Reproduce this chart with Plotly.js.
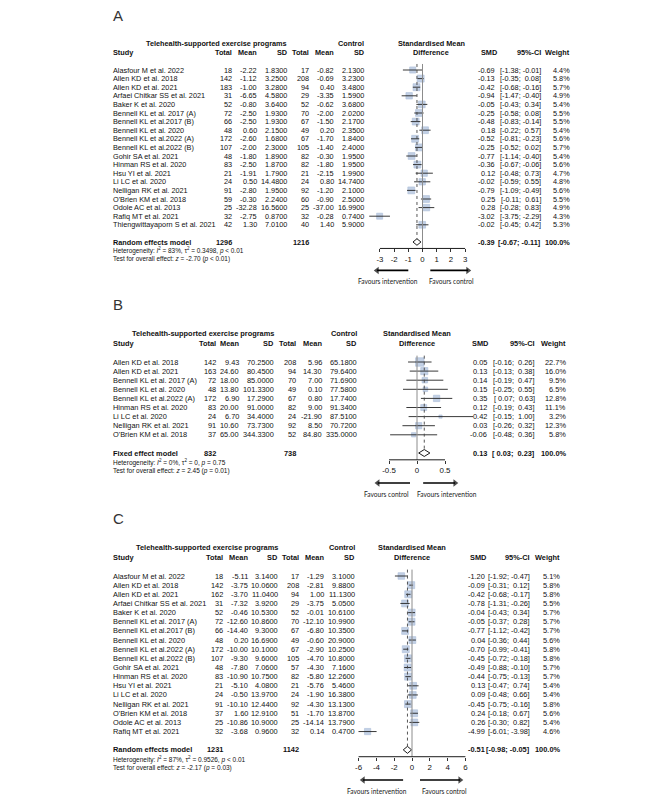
<!DOCTYPE html>
<html><head><meta charset="utf-8">
<script src="https://cdn.plot.ly/plotly-3.0.1.min.js"></script>
<style>html,body{margin:0;padding:0;background:#fff}</style>
</head><body>
<div id="chart" style="width:666px;height:799px"></div>
<script>
// ================= DATA =================
// ---- Panel A ----
const studiesA = ["Alasfour M et al. 2022","Allen KD et al. 2018","Allen KD et al. 2021","Arfaei Chitkar SS et al. 2021","Baker K et al. 2020","Bennell KL et al. 2017 (A)","Bennell KL et al.2017 (B)","Bennell KL et al. 2020","Bennell KL et al.2022 (A)","Bennell KL et al.2022 (B)","Gohir SA et al. 2021","Hinman RS et al. 2020","Hsu YI et al. 2021","Li LC et al. 2020","Nelligan RK et al. 2021","O'Brien KM et al. 2018","Odole AC et al. 2013","Rafiq MT et al. 2021","Thiengwittayaporn S et al. 2021"];
const totalExpA = [18,142,183,31,52,72,66,48,172,107,48,83,21,24,91,59,25,32,42];
const meanExpA = [-2.22,-1.12,-1.00,-6.65,-0.80,-2.50,-2.50,0.60,-2.60,-2.00,-1.80,-2.50,-1.91,0.50,-2.80,-0.30,-32.28,-2.75,1.30];
const sdExpA = [1.83,3.25,3.28,4.58,3.64,1.93,1.93,2.15,1.68,2.30,1.89,1.87,1.79,14.48,1.95,2.24,16.56,0.87,7.01];
const totalCtrlA = [17,208,94,29,52,70,67,49,67,105,82,82,21,24,92,60,25,32,40];
const meanCtrlA = [-0.82,-0.69,0.40,-3.35,-0.62,-2.00,-1.50,0.20,-1.70,-1.40,-0.30,-1.80,-2.15,0.80,-1.20,-0.90,-37.00,-0.28,1.40];
const sdCtrlA = [2.13,3.23,3.48,1.59,3.68,2.02,2.17,2.35,1.84,2.40,1.95,1.95,1.99,14.74,2.10,2.50,16.99,0.74,5.90];
const smdA = [-0.69,-0.13,-0.42,-0.94,-0.05,-0.25,-0.48,0.18,-0.52,-0.25,-0.77,-0.36,0.12,-0.02,-0.79,0.25,0.28,-3.02,-0.02];
const lowerA = [-1.38,-0.35,-0.68,-1.47,-0.43,-0.58,-0.83,-0.22,-0.81,-0.52,-1.14,-0.67,-0.48,-0.59,-1.09,-0.11,-0.28,-3.75,-0.45];
const upperA = [-0.01,0.08,-0.16,-0.40,0.34,0.08,-0.14,0.57,-0.23,0.02,-0.40,-0.06,0.73,0.55,-0.49,0.61,0.83,-2.29,0.42];
const weightA = [4.4,5.8,5.7,4.9,5.4,5.5,5.5,5.4,5.6,5.7,5.4,5.6,4.7,4.8,5.6,5.5,4.9,4.3,5.3];
const modelA = "Random effects model";
const totalsA = [1296,1216];
const pooledA = [-0.39,-0.67,-0.11];
const hetA = ["83%","0.3498","&lt; 0.01"];
const testA = ["-2.70","&lt; 0.01"];
const ticksA = [-3,-2,-1,0,1,2,3];
const favoursA = ["Favours intervention","Favours control"];

// ---- Panel B ----
const studiesB = ["Allen KD et al. 2018","Allen KD et al. 2021","Bennell KL et al. 2017 (A)","Bennell KL et al. 2020","Bennell KL et al.2022 (A)","Hinman RS et al. 2020","Li LC et al. 2020","Nelligan RK et al. 2021","O'Brien KM et al. 2018"];
const totalExpB = [142,163,72,48,172,83,24,91,37];
const meanExpB = [9.43,24.60,18.00,13.80,6.90,20.00,6.70,10.60,65.00];
const sdExpB = [70.25,80.45,85.00,101.33,17.29,91.00,34.40,73.73,344.33];
const totalCtrlB = [208,94,70,49,67,82,24,92,52];
const meanCtrlB = [5.96,14.30,7.00,0.10,0.80,9.00,-21.90,8.50,84.80];
const sdCtrlB = [65.18,79.64,71.69,77.58,17.74,91.34,87.51,70.72,335.00];
const smdB = [0.05,0.13,0.14,0.15,0.35,0.12,0.42,0.03,-0.06];
const lowerB = [-0.16,-0.13,-0.19,-0.25,0.07,-0.19,-0.15,-0.26,-0.48];
const upperB = [0.26,0.38,0.47,0.55,0.63,0.43,1.00,0.32,0.36];
const weightB = [22.7,16.0,9.5,6.5,12.8,11.1,3.2,12.3,5.8];
const modelB = "Fixed effect model";
const totalsB = [832,738];
const pooledB = [0.13,0.03,0.23];
const hetB = ["0%","0","= 0.75"];
const testB = ["2.45","= 0.01"];
const ticksB = [-0.5,0,0.5];
const favoursB = ["Favours control","Favours intervention"];

// ---- Panel C ----
const studiesC = ["Alasfour M et al. 2022","Allen KD et al. 2018","Allen KD et al. 2021","Arfaei Chitkar SS et al. 2021","Baker K et al. 2020","Bennell KL et al. 2017 (A)","Bennell KL et al.2017 (B)","Bennell KL et al. 2020","Bennell KL et al.2022 (A)","Bennell KL et al.2022 (B)","Gohir SA et al. 2021","Hinman RS et al. 2020","Hsu YI et al. 2021","Li LC et al. 2020","Nelligan RK et al. 2021","O'Brien KM et al. 2018","Odole AC et al. 2013","Rafiq MT et al. 2021"];
const totalExpC = [18,142,162,31,52,72,66,48,172,107,48,83,21,24,91,37,25,32];
const meanExpC = [-5.11,-3.75,-3.70,-7.32,-0.46,-12.60,-14.40,0.20,-10.00,-9.30,-7.80,-10.90,-5.10,-0.50,-10.10,1.60,-10.86,-3.68];
const sdExpC = [3.14,10.06,11.04,3.92,10.53,10.86,9.30,16.69,10.10,9.60,7.06,10.75,4.08,13.97,12.44,12.91,10.90,0.96];
const totalCtrlC = [17,208,94,29,52,70,67,49,67,105,57,82,21,24,92,51,25,32];
const meanCtrlC = [-1.29,-2.81,1.00,-3.75,-0.01,-12.10,-6.80,-0.60,-2.90,-4.70,-4.30,-5.80,-5.76,-1.90,-4.30,-1.70,-14.14,0.14];
const sdCtrlC = [3.10,9.88,11.13,5.05,10.61,10.99,10.35,20.90,10.25,10.80,7.16,12.26,5.46,16.38,13.13,13.87,13.79,0.47];
const smdC = [-1.20,-0.09,-0.42,-0.78,-0.04,-0.05,-0.77,0.04,-0.70,-0.45,-0.49,-0.44,0.13,0.09,-0.45,0.24,0.26,-4.99];
const lowerC = [-1.92,-0.31,-0.68,-1.31,-0.43,-0.37,-1.12,-0.36,-0.99,-0.72,-0.88,-0.75,-0.47,-0.48,-0.75,-0.18,-0.30,-6.01];
const upperC = [-0.47,0.12,-0.17,-0.26,0.34,0.28,-0.42,0.44,-0.41,-0.18,-0.10,-0.13,0.74,0.66,-0.16,0.67,0.82,-3.98];
const weightC = [5.1,5.8,5.8,5.5,5.7,5.7,5.7,5.6,5.8,5.8,5.7,5.7,5.4,5.4,5.8,5.6,5.4,4.6];
const modelC = "Random effects model";
const totalsC = [1231,1142];
const pooledC = [-0.51,-0.98,-0.05];
const hetC = ["87%","0.9526","&lt; 0.01"];
const testC = ["-2.17","= 0.03"];
const ticksC = [-6,-4,-2,0,2,4,6];
const favoursC = ["Favours intervention","Favours control"];

// ================= LAYOUT CONFIG =================
const W = 666, H = 799;
const FONT = "Liberation Sans, Arial, sans-serif";
const FAVFONT = "Lato, Liberation Sans, sans-serif";
const TXT = "#111";
const SQ_FILL = "#a9bddb", SQ_LINE = "#8aa3c9";

const panels = [
  {label:"A", rowY0:70, rowH:8.6, top:0, bot:292, fs:7.3, cols:[112,233,258,288,310,335,365],
   zeroPx:422.5, ppu:14.2, halfW:62, smdR:496, ciR:542, wR:571, sq:7, hdrX:0.6,
   arrowTails:[-1.0,0.55], arrowHeads:[-3.2,3.2], favX:[-2.43,2.05],
   d:{studies:studiesA,nE:totalExpA,mE:meanExpA,sE:sdExpA,nC:totalCtrlA,mC:meanCtrlA,sC:sdCtrlA,smd:smdA,lo:lowerA,hi:upperA,w:weightA,model:modelA,totals:totalsA,pooled:pooledA,het:hetA,test:testA,ticks:ticksA,fav:favoursA}},
  {label:"B", rowY0:362, rowH:9.1, top:292, bot:506, fs:7.4, cols:[112,217,240,275,297,323,358],
   zeroPx:417, ppu:56, halfW:62, smdR:488, ciR:536, wR:567, sq:8.5, hdrX:0,
   arrowTails:[-0.125,0.11], arrowHeads:[-0.7,0.68], favX:[-0.55,0.54],
   d:{studies:studiesB,nE:totalExpB,mE:meanExpB,sE:sdExpB,nC:totalCtrlB,mC:meanCtrlB,sC:sdCtrlB,smd:smdB,lo:lowerB,hi:upperB,w:weightB,model:modelB,totals:totalsB,pooled:pooledB,het:hetB,test:testB,ticks:ticksB,fav:favoursB}},
  {label:"C", rowY0:576, rowH:9.15, top:506, bot:799, fs:7.4, cols:[112,224,249,279,300,325,356],
   zeroPx:412, ppu:8.9, halfW:62, smdR:486, ciR:531, wR:561, sq:7, hdrX:0,
   arrowTails:[-1.0,0.9], arrowHeads:[-5.5,5.4], favX:[-3.9,3.6],
   d:{studies:studiesC,nE:totalExpC,mE:meanExpC,sE:sdExpC,nC:totalCtrlC,mC:meanCtrlC,sC:sdCtrlC,smd:smdC,lo:lowerC,hi:upperC,w:weightC,model:modelC,totals:totalsC,pooled:pooledC,het:hetC,test:testC,ticks:ticksC,fav:favoursC}}
];

const NB = "\u00a0";
const f2 = v => (v >= 0 ? NB : "") + v.toFixed(2);
const ciStr = (lo, hi) => "[" + f2(lo) + "; " + f2(hi) + "]";

const traces = [], annotations = [], shapes = [];
const layout = {
  width: W, height: H, margin:{l:0,r:0,t:0,b:0}, showlegend:false,
  paper_bgcolor:"#fff", plot_bgcolor:"rgba(0,0,0,0)", font:{family:FONT,color:TXT}
};

panels.forEach((p, idx) => {
  const s = idx === 0 ? "" : String(idx + 1);
  const xa = "x" + s, ya = "y" + s;
  const d = p.d, n = d.studies.length;
  const rowAt = px => (px - p.rowY0) / p.rowH + 1;
  const rows = d.studies.map((_, i) => i + 1);
  const sumRow = n + 2, axisRow = n + 2.75, arrowRow = n + 5.3, favRow = n + 6.5;
  const axisPx = p.rowY0 + p.rowH * (axisRow - 1);

  layout["xaxis" + s] = {
    domain:[(p.zeroPx - p.halfW) / W, (p.zeroPx + p.halfW) / W],
    range:[-p.halfW / p.ppu, p.halfW / p.ppu],
    anchor:"free", position: 1 - axisPx / H,
    tickvals:d.ticks, ticktext:d.ticks.map(String),
    ticks:"outside", ticklen:3, tickwidth:0.8, tickcolor:"#000",
    showline:false, showgrid:false, zeroline:false, fixedrange:true,
    tickfont:{family:FONT, size:p.fs + 0.5, color:TXT}
  };
  layout["yaxis" + s] = {
    domain:[1 - p.bot / H, 1 - p.top / H],
    range:[rowAt(p.bot), rowAt(p.top)],
    anchor:xa, visible:false, fixedrange:true
  };

  // reference lines
  shapes.push({type:"line", xref:xa, yref:ya, x0:0, x1:0, y0:0.3, y1:axisRow, line:{color:"#8c8c8c", width:1}});
  shapes.push({type:"line", xref:xa, yref:ya, x0:d.pooled[0], x1:d.pooled[0], y0:0.3, y1:sumRow - 0.38, line:{color:"#444", width:0.9, dash:"dot"}});
  shapes.push({type:"line", xref:xa, yref:ya, x0:Math.min(...d.ticks), x1:Math.max(...d.ticks), y0:axisRow, y1:axisRow, line:{color:"#000", width:0.9}});

  // squares
  const maxW = Math.max(...d.w);
  traces.push({type:"scatter", mode:"markers", xaxis:xa, yaxis:ya, x:d.smd, y:rows, hoverinfo:"skip",
    marker:{symbol:"square", size:d.w.map(w => p.sq * Math.sqrt(w / maxW)), color:SQ_FILL, line:{color:SQ_LINE, width:0.6}}});
  // CI lines
  const cx = [], cy = [];
  d.lo.forEach((lo, i) => { cx.push(lo, d.hi[i], null); cy.push(rows[i], rows[i], null); });
  traces.push({type:"scatter", mode:"lines", xaxis:xa, yaxis:ya, x:cx, y:cy, hoverinfo:"skip", line:{color:"#222", width:0.9}});
  // diamond
  const [est, plo, phi] = d.pooled;
  traces.push({type:"scatter", mode:"lines", xaxis:xa, yaxis:ya, hoverinfo:"skip",
    x:[plo, est, phi, est, plo], y:[sumRow, sumRow - 0.38, sumRow, sumRow + 0.38, sumRow],
    fill:"toself", fillcolor:"#fff", line:{color:"#000", width:0.9}});
  // direction arrows (line + triangular head)
  [0, 1].forEach(k => {
    traces.push({type:"scatter", mode:"lines+markers", xaxis:xa, yaxis:ya, hoverinfo:"skip", cliponaxis:false,
      x:[p.arrowTails[k], p.arrowHeads[k]], y:[arrowRow, arrowRow],
      line:{color:"#000", width:1.6},
      marker:{symbol:["circle", k === 0 ? "triangle-left" : "triangle-right"], size:[0, 6.5], color:"#000", line:{width:0}}});
  });

  const txt = (text, xPx, row, anchor, size, extra) => annotations.push(Object.assign({
    text, x:xPx / W, xref:"paper", y:row, yref:ya, xanchor:anchor, yanchor:"middle",
    showarrow:false, borderpad:0, font:{family:FONT, size:size || p.fs, color:TXT}}, extra || {}));
  const c = p.cols;

  // panel label
  txt(p.label, 112, -5.3, "left", 15, {font:{family:FONT, size:15, color:"#333"}});
  // headers
  const h1 = -2.1, h2 = -1.0;
  txt("<b>Telehealth-supported exercise programs</b>", c[3], h1, "right");
  txt("<b>Control</b>", c[6], h1, "right");
  annotations.push({text:"<b>Standardised Mean</b>", x:p.hdrX, xref:xa, y:h1, yref:ya, xanchor:"center", yanchor:"middle", showarrow:false, borderpad:0, font:{family:FONT,size:p.fs,color:TXT}});
  annotations.push({text:"<b>Difference</b>", x:p.hdrX, xref:xa, y:h2, yref:ya, xanchor:"center", yanchor:"middle", showarrow:false, borderpad:0, font:{family:FONT,size:p.fs,color:TXT}});
  txt("<b>Study</b>", c[0], h2, "left");
  ["Total","Mean","SD","Total","Mean","SD"].forEach((h, k) => txt("<b>" + h + "</b>", c[k + 1], h2, "right"));
  txt("<b>SMD</b>", p.smdR + 2, h2, "right");
  txt("<b>95%-CI</b>", p.ciR, h2, "right");
  txt("<b>Weight</b>", p.wR, h2, "right");

  // study rows
  d.studies.forEach((name, i) => {
    const r = rows[i];
    txt(name, c[0], r, "left");
    txt(String(d.nE[i]), c[1], r, "right");
    txt(d.mE[i].toFixed(2), c[2], r, "right");
    txt(d.sE[i].toFixed(4), c[3], r, "right");
    txt(String(d.nC[i]), c[4], r, "right");
    txt(d.mC[i].toFixed(2), c[5], r, "right");
    txt(d.sC[i].toFixed(4), c[6], r, "right");
    txt(d.smd[i].toFixed(2), p.smdR, r, "right");
    txt(ciStr(d.lo[i], d.hi[i]), p.ciR, r, "right");
    txt(d.w[i].toFixed(1) + "%", p.wR, r, "right");
  });

  // summary row
  txt("<b>" + d.model + "</b>", c[0], sumRow, "left");
  txt("<b>" + d.totals[0] + "</b>", c[1], sumRow, "right");
  txt("<b>" + d.totals[1] + "</b>", c[4], sumRow, "right");
  txt("<b>" + est.toFixed(2) + "</b>", p.smdR, sumRow, "right");
  txt("<b>" + ciStr(plo, phi) + "</b>", p.ciR, sumRow, "right");
  txt("<b>100.0%</b>", p.wR, sumRow, "right");
  const hs = p.fs * 0.88;
  txt("Heterogeneity: <i>I</i><sup>2</sup> = " + d.het[0] + ", τ<sup>2</sup> = " + d.het[1] + ", <i>p</i> " + d.het[2], c[0], n + 3, "left", hs);
  txt("Test for overall effect: <i>z</i> = " + d.test[0] + " (<i>p</i> " + d.test[1] + ")", c[0], n + 4, "left", hs);

  // favours labels
  [0, 1].forEach(k => {
    annotations.push({text:d.fav[k], x:p.favX[k], xref:xa, y:favRow, yref:ya, xanchor:"center", yanchor:"middle",
      showarrow:false, borderpad:0, font:{family:FAVFONT, size:6.6, color:"#222"}});
  });
});

layout.annotations = annotations;
layout.shapes = shapes;
Plotly.newPlot("chart", traces, layout, {staticPlot:true, displayModeBar:false});
</script>
</body></html>
